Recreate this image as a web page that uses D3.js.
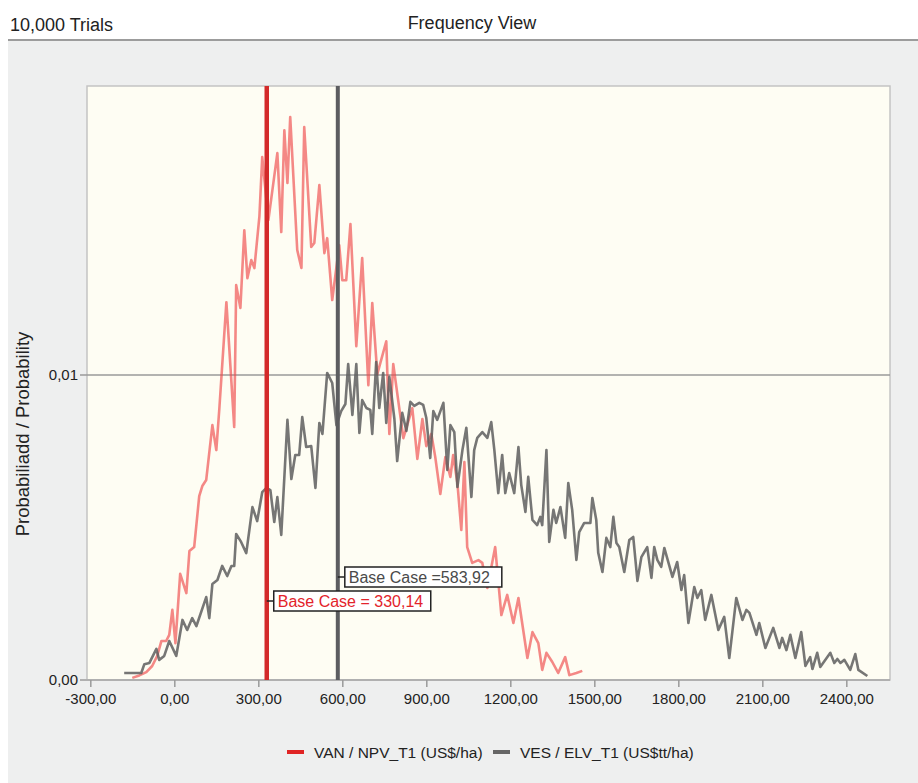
<!DOCTYPE html>
<html>
<head>
<meta charset="utf-8">
<script src="https://cdn.jsdelivr.net/npm/d3@7"></script>
<style>
html,body{margin:0;padding:0;background:#ffffff;}
svg{display:block;font-family:"Liberation Sans",Arial,sans-serif;}
</style>
</head>
<body>
<svg id="chart" width="918" height="783"></svg>
<script>
// ---- Data ----
const xTicks = [-300, 0, 300, 600, 900, 1200, 1500, 1800, 2100, 2400];
const yTicks = [0, 0.01];

const npvX = [-150,-125,-100,-79,-61,-46,-29,-18,-7,4,21,43,54,71,89,100,114,136,150,161,186,214,221,236,250,261,275,286,304,314,336,368,382,393,404,414,439,454,464,489,500,518,536,546,564,589,600,614,629,650,671,693,707,725,757,768,782,818,850,868,886,900,918,932,950,968,986,996,1011,1025,1036,1046,1064,1086,1100,1118,1146,1168,1189,1211,1229,1261,1279,1300,1314,1329,1350,1371,1396,1411,1436,1457];
const npvP = [0.00007,0.00015,0.00026,0.00046,0.00079,0.00128,0.00128,0.00148,0.00230,0.00121,0.00348,0.00285,0.00423,0.00436,0.00603,0.00636,0.00656,0.00836,0.00754,0.00892,0.01239,0.00830,0.01295,0.01220,0.01475,0.01318,0.01377,0.01351,0.01521,0.01715,0.01508,0.01728,0.01469,0.01803,0.01630,0.01846,0.01410,0.01351,0.01813,0.01420,0.01433,0.01623,0.01400,0.01449,0.01246,0.01426,0.01311,0.01311,0.01495,0.01095,0.01384,0.00967,0.01236,0.01003,0.01111,0.00807,0.01036,0.00793,0.00892,0.00725,0.00856,0.00767,0.00807,0.00731,0.00610,0.00731,0.00666,0.00738,0.00646,0.00492,0.00715,0.00436,0.00384,0.00393,0.00384,0.00302,0.00436,0.00213,0.00279,0.00187,0.00269,0.00072,0.00157,0.00121,0.00033,0.00089,0.00059,0.00023,0.00075,0.00016,0.00023,0.00030];

const elvX = [-179,-118,-107,-89,-64,-54,-36,-18,7,29,46,64,79,114,125,136,154,171,189,204,214,221,239,257,279,296,314,329,343,357,368,382,404,418,432,446,457,471,489,504,518,529,546,564,579,596,611,621,636,650,661,671,686,700,707,721,732,746,757,768,786,796,814,829,843,857,875,889,900,914,925,939,961,975,986,1000,1011,1029,1043,1061,1071,1082,1100,1118,1132,1143,1157,1171,1182,1196,1214,1229,1239,1254,1264,1279,1296,1307,1314,1329,1339,1354,1364,1379,1396,1407,1421,1436,1446,1464,1486,1493,1507,1514,1529,1543,1557,1568,1579,1589,1607,1625,1639,1654,1668,1689,1704,1714,1725,1739,1750,1779,1796,1811,1821,1836,1857,1868,1882,1896,1918,1943,1964,1982,2007,2029,2043,2054,2079,2089,2111,2139,2161,2171,2186,2200,2218,2239,2254,2271,2279,2296,2307,2343,2357,2368,2379,2393,2414,2432,2443,2475];
const elvP = [0.00023,0.00023,0.00052,0.00056,0.00102,0.00066,0.00079,0.00128,0.00079,0.00197,0.00164,0.00203,0.00177,0.00272,0.00203,0.00315,0.00328,0.00374,0.00341,0.00374,0.00374,0.00479,0.00452,0.00416,0.00567,0.00521,0.00616,0.00630,0.00623,0.00518,0.00600,0.00476,0.00853,0.00659,0.00738,0.00738,0.00862,0.00764,0.00767,0.00630,0.00843,0.00807,0.01007,0.00974,0.00836,0.00882,0.00905,0.01036,0.00869,0.01036,0.00810,0.00918,0.00892,0.00886,0.00807,0.01043,0.00892,0.01007,0.00843,0.00994,0.00856,0.00718,0.00876,0.00817,0.00912,0.00899,0.00909,0.00902,0.00859,0.00728,0.00882,0.00853,0.00909,0.00689,0.00836,0.00813,0.00633,0.00754,0.00827,0.00600,0.00754,0.00794,0.00813,0.00794,0.00846,0.00754,0.00613,0.00738,0.00613,0.00679,0.00613,0.00764,0.00640,0.00551,0.00666,0.00525,0.00508,0.00535,0.00508,0.00754,0.00453,0.00558,0.00515,0.00567,0.00466,0.00646,0.00558,0.00394,0.00485,0.00515,0.00515,0.00597,0.00525,0.00417,0.00354,0.00466,0.00436,0.00535,0.00449,0.00436,0.00354,0.00459,0.00469,0.00325,0.00403,0.00436,0.00335,0.00436,0.00394,0.00371,0.00433,0.00338,0.00387,0.00295,0.00344,0.00187,0.00305,0.00269,0.00295,0.00197,0.00279,0.00164,0.00207,0.00072,0.00269,0.00197,0.00230,0.00220,0.00148,0.00187,0.00105,0.00171,0.00105,0.00138,0.00098,0.00148,0.00072,0.00157,0.00046,0.00075,0.00036,0.00089,0.00043,0.00089,0.00056,0.00069,0.00056,0.00066,0.00033,0.00085,0.00033,0.00013];

const baseNPV = 330.14;
const baseELV = 583.92;
const seriesNames = ["VAN / NPV_T1 (US$/ha)", "VES / ELV_T1 (US$tt/ha)"];

// ---- Layout ----
const svg = d3.select("#chart");
const W = 918, H = 783;
const plot = {left: 87, right: 890, top: 86, bottom: 680};

// background panel
svg.append("rect").attr("x", 0).attr("y", 0).attr("width", W).attr("height", H).attr("fill", "#ffffff");
svg.append("rect").attr("x", 8).attr("y", 41).attr("width", W - 8).attr("height", H - 41).attr("fill", "#eeefef");
svg.append("line").attr("x1", 8).attr("x2", W).attr("y1", 40).attr("y2", 40)
  .attr("stroke", "#9c9c9c").attr("stroke-width", 2);

svg.append("text").attr("x", 10).attr("y", 31).attr("font-size", 18).attr("fill", "#222").text("10,000 Trials");
svg.append("text").attr("x", 472).attr("y", 29).attr("font-size", 18).attr("fill", "#222")
  .attr("text-anchor", "middle").text("Frequency View");

// scales
const x = d3.scaleLinear().domain([-311.8, 2556]).range([plot.left, plot.right]);
const y = d3.scaleLinear().domain([0, 0.01948]).range([plot.bottom, plot.top]);

// plot area
svg.append("rect").attr("x", plot.left).attr("y", plot.top)
  .attr("width", plot.right - plot.left).attr("height", plot.bottom - plot.top)
  .attr("fill", "#fefdf3").attr("stroke", "#c4c4c4").attr("stroke-width", 1.5);

// gridline at 0.01 & y labels
const fmt = v => v.toFixed(2).replace(".", ",");
yTicks.forEach(t => {
  svg.append("line").attr("x1", 80).attr("x2", plot.right).attr("y1", y(t)).attr("y2", y(t))
    .attr("stroke", t === 0 ? "#b0b0b0" : "#9a9a9a").attr("stroke-width", t === 0 ? 2 : 1.5);
  svg.append("text").attr("x", 78).attr("y", y(t) + 5).attr("text-anchor", "end")
    .attr("font-size", 15).attr("fill", "#222").text(fmt(t));
});

// x axis
const xAxis = d3.axisBottom(x).tickValues(xTicks).tickSize(7).tickPadding(6).tickFormat(fmt);
const gx = svg.append("g").attr("transform", `translate(0,${plot.bottom})`).call(xAxis);
gx.select(".domain").remove();
gx.selectAll(".tick line").attr("stroke", "#9a9a9a").attr("stroke-width", 1.5);
gx.selectAll(".tick text").attr("font-size", 15).attr("fill", "#222")
  .attr("font-family", "Liberation Sans, Arial, sans-serif");

// y axis title
svg.append("text").attr("transform", "translate(29,434) rotate(-90)").attr("text-anchor", "middle")
  .attr("font-size", 18.5).attr("fill", "#222").text("Probabiliadd / Probability");

// series lines
const line = d3.line().x(d => x(d[0])).y(d => y(d[1]));
const npvData = npvX.map((v, i) => [v, npvP[i]]);
const elvData = elvX.map((v, i) => [v, elvP[i]]);

svg.append("path").datum(npvData).attr("d", line).attr("fill", "none")
  .attr("stroke", "#ee4a4a").attr("stroke-opacity", 0.65).attr("stroke-width", 2.6)
  .attr("stroke-linejoin", "round");
svg.append("path").datum(elvData).attr("d", line).attr("fill", "none")
  .attr("stroke", "#5e5e5e").attr("stroke-opacity", 0.85).attr("stroke-width", 2.6)
  .attr("stroke-linejoin", "round");

// base case lines
svg.append("line").attr("x1", x(baseNPV)).attr("x2", x(baseNPV)).attr("y1", plot.top).attr("y2", plot.bottom)
  .attr("stroke", "#d32a2a").attr("stroke-width", 4.5);
svg.append("line").attr("x1", x(baseELV)).attr("x2", x(baseELV)).attr("y1", plot.top).attr("y2", plot.bottom)
  .attr("stroke", "#5c5d60").attr("stroke-width", 4);

// base case labels
function baseLabel(xv, yy, w, text, color) {
  const x0 = x(xv);
  svg.append("line").attr("x1", x0).attr("x2", x0 + 7).attr("y1", yy).attr("y2", yy)
    .attr("stroke", "#222").attr("stroke-width", 1.5);
  svg.append("rect").attr("x", x0 + 7).attr("y", yy - 10).attr("width", w).attr("height", 20)
    .attr("fill", "#ffffff").attr("stroke", "#222").attr("stroke-width", 1.5);
  svg.append("text").attr("x", x0 + 11).attr("y", yy + 6).attr("font-size", 16)
    .attr("fill", color).text(text);
}
baseLabel(baseELV, 577, 157, "Base Case =" + fmt(baseELV), "#4a4a4a");
baseLabel(baseNPV, 601, 157, "Base Case = " + fmt(baseNPV), "#e3232b");

// legend
const legendItems = [
  {name: seriesNames[0], color: "#e02424", x: 287},
  {name: seriesNames[1], color: "#666666", x: 493}
];
legendItems.forEach(it => {
  svg.append("line").attr("x1", it.x).attr("x2", it.x + 17).attr("y1", 752).attr("y2", 752)
    .attr("stroke", it.color).attr("stroke-width", 4);
  svg.append("text").attr("x", it.x + 27).attr("y", 758).attr("font-size", 15.5).attr("fill", "#222").text(it.name);
});
</script>
</body>
</html>
